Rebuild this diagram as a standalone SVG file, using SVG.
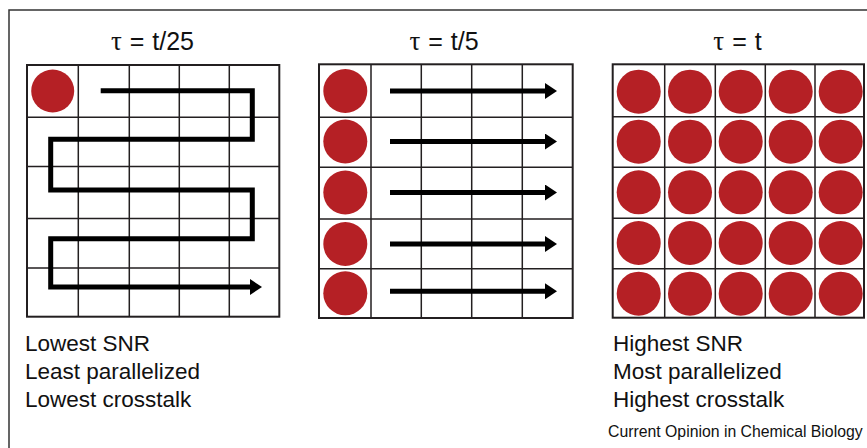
<svg xmlns="http://www.w3.org/2000/svg" width="867" height="448" viewBox="0 0 867 448">
<defs>
<style>
.frame{fill:none;stroke:#333;stroke-width:1.5}
.grid{fill:#fff;stroke:#231f20;stroke-width:2}
.gl{stroke:#231f20;stroke-width:1.5;fill:none}
.dot{fill:#b52025}
.title{font-family:"Liberation Sans",Arial,sans-serif;font-size:25px;fill:#111;text-anchor:middle;word-spacing:1px}
.tau{font-family:"Liberation Serif","Times New Roman",serif;font-size:27px}
.lbl{font-family:"Liberation Sans",Arial,sans-serif;font-size:22.5px;fill:#111}
.credit{font-family:"Liberation Sans",Arial,sans-serif;font-size:15.8px;fill:#111}
.arrow{fill:none;stroke:#000;stroke-width:5;stroke-linejoin:miter}
</style>
<marker id="ah" markerUnits="userSpaceOnUse" viewBox="0 0 12 16" markerWidth="12" markerHeight="16" refX="0" refY="8" orient="auto">
<path d="M0,0 L12,8 L0,16 Z" fill="#000"/>
</marker>
</defs>
<rect width="867" height="448" fill="#fff"/>
<rect class="frame" x="9" y="10" width="870" height="450"/>

<g id="panel-left">
<text class="title" x="152.5" y="50"><tspan class="tau">τ</tspan> = t/25</text>
<rect class="grid" x="27" y="65" width="252.3" height="251.7"/>
<path class="gl" d="M78.3,65V316.7M129.3,65V316.7M179.3,65V316.7M229.3,65V316.7M27,117.3H279.3M27,166.5H279.3M27,218.5H279.3M27,268H279.3"/>
<circle class="dot" cx="52.7" cy="91" r="21.5"/>
</g>

<g id="panel-middle">
<text class="title" x="444" y="50"><tspan class="tau">τ</tspan> = t/5</text>
<rect class="grid" x="319" y="64.3" width="253.7" height="253.7"/>
<path class="gl" d="M371,64.3V318M421.3,64.3V318M471.7,64.3V318M522.3,64.3V318M319,117.3H572.7M319,167.3H572.7M319,219H572.7M319,268.7H572.7"/>
<circle class="dot" cx="345.3" cy="91" r="22"/>
<circle class="dot" cx="345.3" cy="141.5" r="22"/>
<circle class="dot" cx="345.3" cy="192.5" r="22"/>
<circle class="dot" cx="345.3" cy="244" r="22"/>
<circle class="dot" cx="345.3" cy="293.3" r="22"/>
</g>

<g id="panel-right">
<text class="title" x="737.5" y="50"><tspan class="tau">τ</tspan> = t</text>
<rect class="grid" x="612.7" y="64.3" width="251.3" height="253.4"/>
<path class="gl" d="M664.7,64.3V317.7M715.3,64.3V317.7M765.3,64.3V317.7M815,64.3V317.7M612.7,116.7H864M612.7,167.3H864M612.7,218.3H864M612.7,268.7H864"/>
<g class="dot">
<circle cx="638.7" cy="91.7" r="22"/><circle cx="690" cy="91.7" r="22"/><circle cx="740.7" cy="91.7" r="22"/><circle cx="790.7" cy="91.7" r="22"/><circle cx="840.7" cy="91.7" r="22"/>
<circle cx="638.7" cy="141.7" r="22"/><circle cx="690" cy="141.7" r="22"/><circle cx="740.7" cy="141.7" r="22"/><circle cx="790.7" cy="141.7" r="22"/><circle cx="840.7" cy="141.7" r="22"/>
<circle cx="638.7" cy="192.3" r="22"/><circle cx="690" cy="192.3" r="22"/><circle cx="740.7" cy="192.3" r="22"/><circle cx="790.7" cy="192.3" r="22"/><circle cx="840.7" cy="192.3" r="22"/>
<circle cx="638.7" cy="243" r="22"/><circle cx="690" cy="243" r="22"/><circle cx="740.7" cy="243" r="22"/><circle cx="790.7" cy="243" r="22"/><circle cx="840.7" cy="243" r="22"/>
<circle cx="638.7" cy="293.7" r="22"/><circle cx="690" cy="293.7" r="22"/><circle cx="740.7" cy="293.7" r="22"/><circle cx="790.7" cy="293.7" r="22"/><circle cx="840.7" cy="293.7" r="22"/>
</g>
</g>

<g id="connectors">
<path class="arrow" marker-end="url(#ah)" d="M100.7,90.7H252.3V139.3H50.7V190H252.3V238.7H50.7V287H250"/>
<path class="arrow" marker-end="url(#ah)" d="M390,91H545"/>
<path class="arrow" marker-end="url(#ah)" d="M390,141.5H545"/>
<path class="arrow" marker-end="url(#ah)" d="M390,192.5H545"/>
<path class="arrow" marker-end="url(#ah)" d="M390,244H545"/>
<path class="arrow" marker-end="url(#ah)" d="M390,291.3H545"/>
</g>

<g id="labels-left">
<text class="lbl" x="25" y="351">Lowest SNR</text>
<text class="lbl" x="25" y="379">Least parallelized</text>
<text class="lbl" x="25" y="407">Lowest crosstalk</text>
</g>
<g id="labels-right">
<text class="lbl" x="613" y="351">Highest SNR</text>
<text class="lbl" x="613" y="379">Most parallelized</text>
<text class="lbl" x="613" y="407">Highest crosstalk</text>
<text class="credit" x="608" y="437">Current Opinion in Chemical Biology</text>
</g>
</svg>
